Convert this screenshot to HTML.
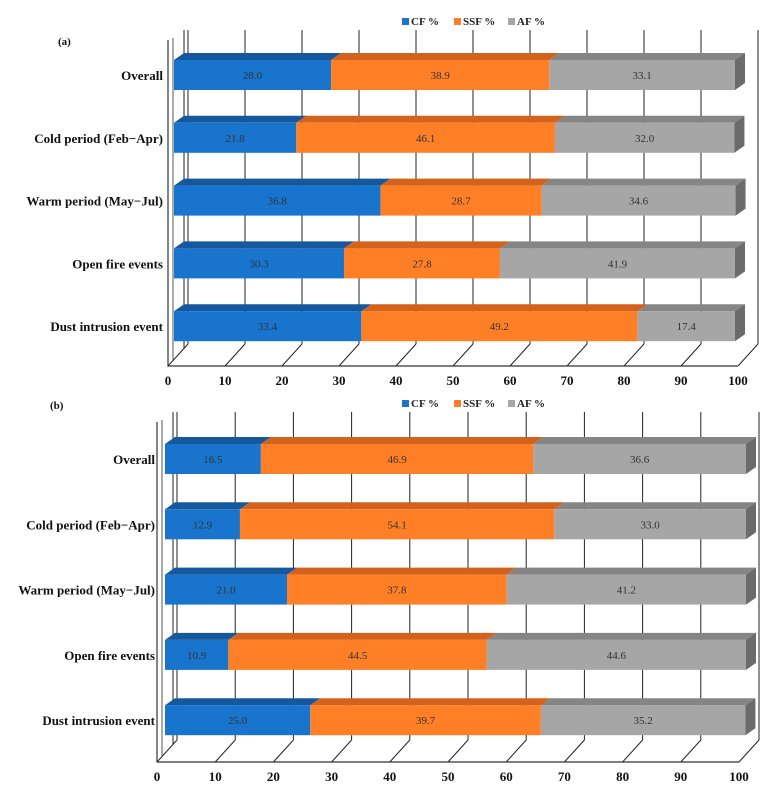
<!DOCTYPE html>
<html><head><meta charset="utf-8"><style>
body{margin:0;background:#fff;}
svg text{font-family:"Liberation Serif",serif;}
</style></head><body>
<svg id="c" width="778" height="791"></svg>
<script>
const categories=["Overall","Cold period (Feb\u2212Apr)","Warm period (May\u2212Jul)","Open fire events","Dust intrusion event"];
const cfA=[28.0,21.8,36.8,30.3,33.4];
const ssfA=[38.9,46.1,28.7,27.8,49.2];
const afA=[33.1,32.0,34.6,41.9,17.4];
const cfB=[16.5,12.9,21.0,10.9,25.0];
const ssfB=[46.9,54.1,37.8,44.5,39.7];
const afB=[36.6,33.0,41.2,44.6,35.2];
const ticks=[0,10,20,30,40,50,60,70,80,90,100];
const seriesNames=["CF  %","SSF %","AF %"];
const NS="http://www.w3.org/2000/svg";
const svg=document.getElementById('c');
const cols=[["#1874CD","#15589d","#104a85"],["#FF7F27","#d3621c","#b5541a"],["#A6A6A6","#858585","#6b6b6b"]];
function mk(t,a,p){const e=document.createElementNS(NS,t);for(const k in a)e.setAttribute(k,a[k]);(p||svg).appendChild(e);return e;}
function panel(o){
  const g=mk('g',{});
  
  
  const ax=v=>o.ax0+v*o.axs;
  const bx=v=>o.bx0+v*o.bs;
  const B=20,D=-22;
  // back wall gridlines
  ticks.forEach(t=>{
    const l=mk('line',{x1:ax(t)+B,y1:o.floor+D,x2:ax(t)+B,y2:o.gTop,stroke:"#222","stroke-width":1},g);
    
    
    const d=mk('line',{x1:ax(t),y1:o.floor,x2:ax(t)+B,y2:o.floor+D,stroke:"#222","stroke-width":1},g);
    
    
    const tx=mk('text',{x:ax(t),y:o.floor+19,"text-anchor":"middle","font-size":13,"font-weight":"bold",fill:"#111"},g);
    tx.textContent=t;
    
    
  });
  // left wall and floor
  mk('polyline',{points:`${ax(0)},${o.gTop+10} ${ax(0)},${o.floor} ${ax(100)},${o.floor}`,fill:"none",stroke:"#333","stroke-width":1.2},g);
  mk('line',{x1:ax(0)+5,y1:o.gTop+8,x2:ax(0)+5,y2:o.floor-6,stroke:"#555","stroke-width":1},g);
  mk('line',{x1:ax(0)+B-4,y1:o.gTop,x2:ax(0)+B-4,y2:o.floor+D+4,stroke:"#222","stroke-width":1},g);
  // legend
  let lx=o.legX;
  seriesNames.forEach((n,i)=>{
    const r=mk('rect',{x:lx,y:o.legY-7,width:7,height:7,fill:cols[i][0]},g);
    
    
    const t=mk('text',{x:lx+9,y:o.legY,"font-size":11,"font-weight":"bold",fill:"#222","xml:space":"preserve"},g);
    t.textContent=n;
    
    
    lx+=[52,54,40][i];
  });
  const lab=mk('text',{x:o.labX,y:o.labY,"font-size":11,"font-weight":"bold",fill:"#111"},g);
  lab.textContent=o.label;
  
  
  const H=30,dx=10,dy=-7;
  categories.forEach((c,i)=>{
    const cy=o.c0+i*o.step, y=cy-H/2;
    const vals=[o.cf[i],o.ssf[i],o.af[i]];
    let acc=0;
    vals.forEach((v,j)=>{
      const x1=bx(acc),x2=bx(acc+v);
      const top=mk('polygon',{points:`${x1},${y} ${x1+dx},${y+dy} ${x2+dx},${y+dy} ${x2},${y}`,fill:cols[j][1]},g);
      
      
      const r=mk('rect',{x:x1,y:y,width:x2-x1,height:H,fill:cols[j][0]},g);
      
      
      if(j==2){mk('polygon',{points:`${x2},${y} ${x2+dx},${y+dy} ${x2+dx},${y+H+dy} ${x2},${y+H}`,fill:cols[j][2]},g);}
      const t=mk('text',{x:(x1+x2)/2,y:cy+4,"text-anchor":"middle","font-size":11,fill:"#333"},g);
      t.textContent=v.toFixed(1);
      
      
      acc+=v;
    });
    const cl=mk('text',{x:o.catX,y:cy+5,"text-anchor":"end","font-size":13,"font-weight":"bold",fill:"#111"},g);
    cl.textContent=c;
    
    
  });
}
panel({name:'panel-a',cf:cfA,ssf:ssfA,af:afA,ax0:168,axs:5.7,bx0:174,bs:5.61,floor:366,gTop:30,c0:75,step:62.8,legX:402,legY:25,labX:58,labY:45,label:"(a)",catX:163});
panel({name:'panel-b',cf:cfB,ssf:ssfB,af:afB,ax0:157,axs:5.82,bx0:165,bs:5.81,floor:762,gTop:412,c0:459,step:65.3,legX:402,legY:407,labX:50,labY:409,label:"(b)",catX:155});
</script>
</body></html>
